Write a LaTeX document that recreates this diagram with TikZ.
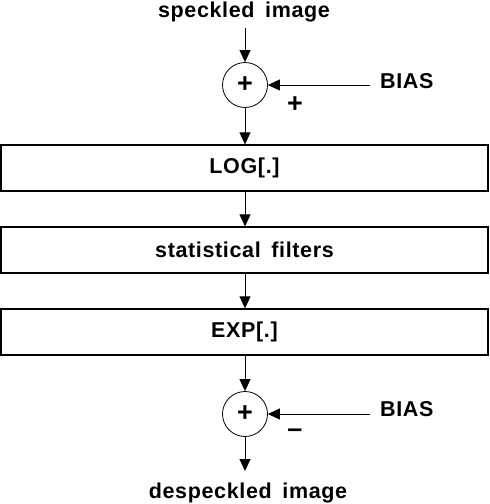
\documentclass[tikz,border=0pt]{standalone}
\usepackage{fontspec}
\setmainfont{Liberation Sans}[LetterSpace=3,WordSpace=1.6]
\usetikzlibrary{arrows.meta}
\begin{document}
\begin{tikzpicture}[x=1pt,y=-1pt,
  every node/.style={font=\fontsize{21.5}{26}\selectfont\bfseries},
  blk/.style={draw,line width=1.3pt,minimum width=487pt,minimum height=46pt,inner sep=0pt},
  sumnode/.style={draw,circle,line width=0.8pt,minimum size=45pt,inner sep=0pt,font=\fontsize{27}{30}\selectfont\bfseries},
  sign/.style={inner sep=0pt,font=\fontsize{27}{30}\selectfont\bfseries},
  flow/.style={line width=0.9pt,-{Triangle[length=12pt,width=11pt]}},
  lbl/.style={inner sep=0pt}]
\useasboundingbox (0,0) rectangle (490,504);
\node[lbl] (in) at (244,12) {speckled image};
\coordinate (inend) at (245,28);
\node[sumnode] (s1) at (245,85) {+};
\node[lbl,anchor=west] (b1) at (380,81) {BIAS};
\coordinate (b1s) at (370,85);
\node[sign] (p1) at (295,105) {+};
\node[blk] (log) at (244.5,168) {LOG[.]};
\node[blk] (stat) at (244.5,250) {statistical filters};
\node[blk] (exp) at (244.5,332) {EXP[.]};
\node[sumnode] (s2) at (245,414) {+};
\node[lbl,anchor=west] (b2) at (380,409) {BIAS};
\coordinate (b2s) at (370,414);
\node[sign] (m2) at (295,433) {--};
\coordinate (outend) at (245,471);
\node[lbl] (out) at (248,493) {despeckled image};
\draw[flow] (inend) -- (s1.north);
\draw[flow] (b1s) -- (s1.east);
\draw[flow] (s1.south) -- (s1.south |- log.north);
\draw[flow] (s1.south |- log.south) -- (s1.south |- stat.north);
\draw[flow] (s1.south |- stat.south) -- (s1.south |- exp.north);
\draw[flow] (s1.south |- exp.south) -- (s2.north);
\draw[flow] (b2s) -- (s2.east);
\draw[flow] (s2.south) -- (outend);
\end{tikzpicture}
\end{document}
